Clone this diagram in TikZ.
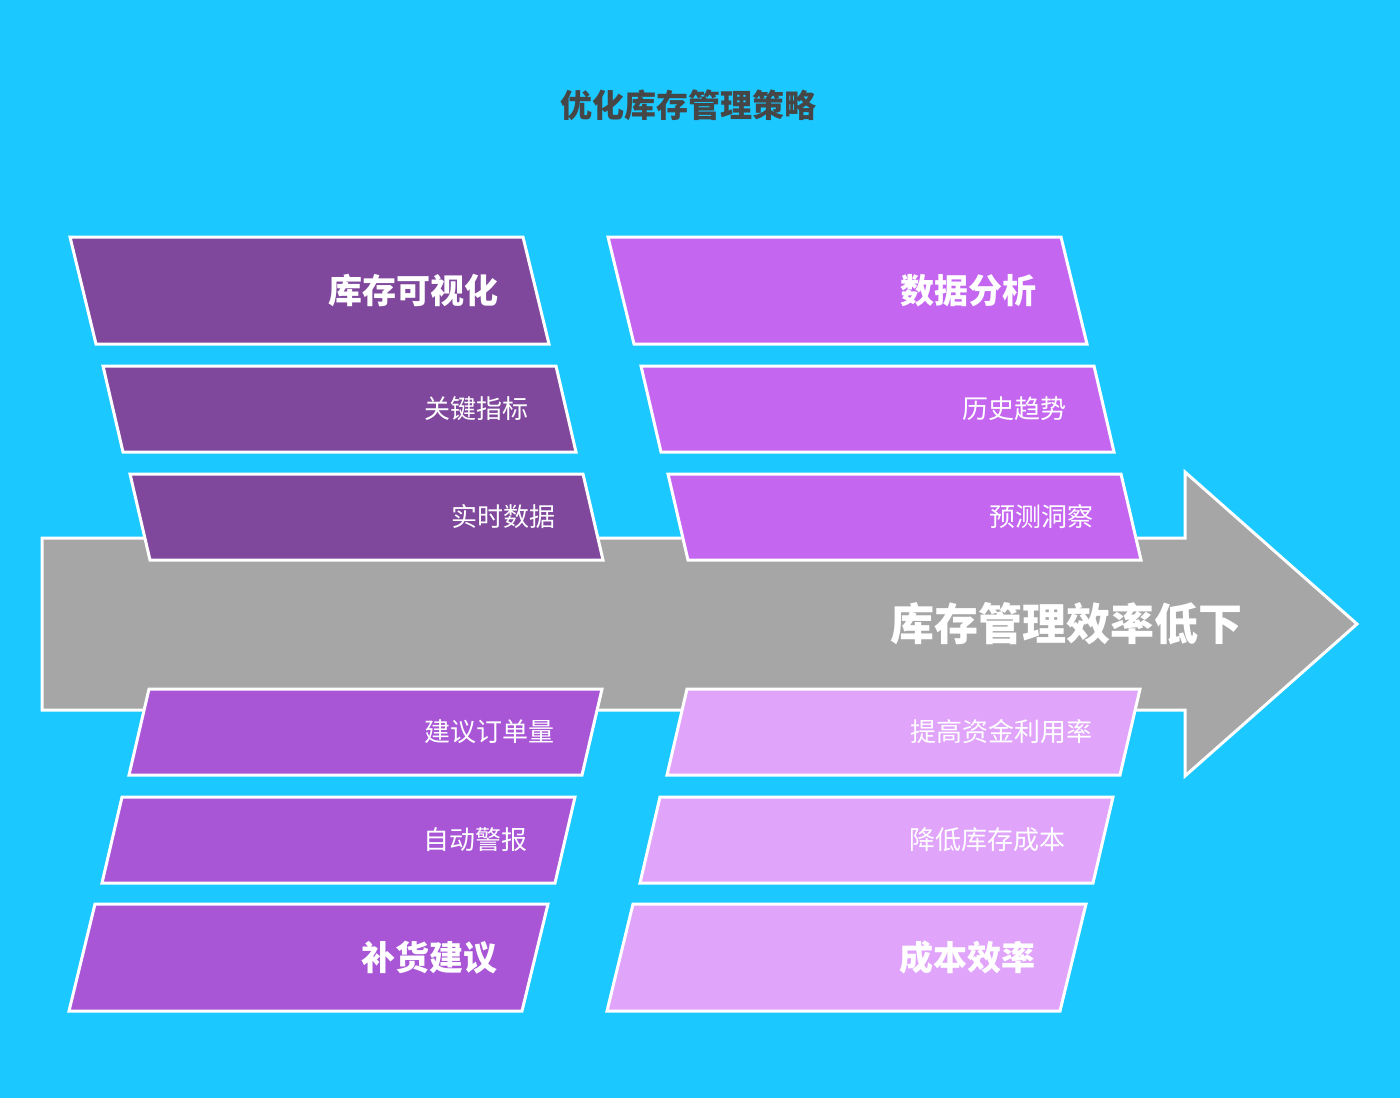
\documentclass[tikz,border=0pt]{standalone}
\usepackage{fontspec}
\setmainfont{Noto Sans CJK SC}
\usetikzlibrary{positioning}
\definecolor{bgblue}{RGB}{27,200,255}
\definecolor{arrowgray}{RGB}{166,166,166}
\definecolor{darkviolet}{RGB}{128,72,156}
\definecolor{brightviolet}{RGB}{197,102,240}
\definecolor{midviolet}{RGB}{168,85,214}
\definecolor{lightviolet}{RGB}{224,164,250}
\definecolor{titlegray}{RGB}{70,70,70}
\tikzset{
  band/.style={draw=white, line width=1.5pt},
  bigtext/.style={text=white, font=\bfseries\fontsize{17}{20}\selectfont, anchor=east, inner sep=0pt},
  subtext/.style={text=white, font=\fontsize{13}{16}\selectfont, anchor=east, inner sep=0pt}
}
% #1 name, #2 top-left x, #3 top y, #4 bottom y, #5 bottom shift, #6 fill, #7 text style, #8 text
\newcommand{\band}[8]{%
  \draw[band, fill=#6] (#2,#3) -- ++(453,0) -- (#2+453+#5,#4) -- (#2+#5,#4) -- cycle;
  \node[#7] (#1) at ({#2+453+#5/2-37},{(#3+#4)/2}) {#8};
}
\begin{document}
\begin{tikzpicture}[x=0.5pt, y=-0.5pt]
  \fill[bgblue] (0,0) rectangle (1400,1098);
  \useasboundingbox (0,0) rectangle (1400,1098);

  % title
  \node[text=titlegray, font=\bfseries\fontsize{16}{19}\selectfont] (title) at (688,105) {优化库存管理策略};

  % spine arrow
  \draw[band, fill=arrowgray] (42,538) -- (1185,538) -- (1185,472) -- (1357,624)
       -- (1185,776) -- (1185,710) -- (42,710) -- cycle;
  \node[text=white, font=\bfseries\fontsize{22}{26}\selectfont] (problem) at (1066,624) {库存管理效率低下};

  % upper left
  \band{vis}{70}{237}{344}{26}{darkviolet}{bigtext}{库存可视化}
  \band{kpi}{103}{366}{452}{20}{darkviolet}{subtext}{关键指标}
  \band{realtime}{130}{474}{560}{20}{darkviolet}{subtext}{实时数据}

  % upper right
  \band{analysis}{608}{237}{344}{26}{brightviolet}{bigtext}{数据分析}
  \band{trend}{641}{366}{452}{20}{brightviolet}{subtext}{历史趋势}
  \band{forecast}{668}{474}{560}{20}{brightviolet}{subtext}{预测洞察}

  % lower left
  \band{order}{149}{689}{775}{-20}{midviolet}{subtext}{建议订单量}
  \band{alert}{122}{797}{883}{-20}{midviolet}{subtext}{自动警报}
  \band{restock}{95}{904}{1011}{-26}{midviolet}{bigtext}{补货建议}

  % lower right
  \band{capital}{687}{689}{775}{-20}{lightviolet}{subtext}{提高资金利用率}
  \band{cost}{660}{797}{883}{-20}{lightviolet}{subtext}{降低库存成本}
  \band{efficiency}{633}{904}{1011}{-26}{lightviolet}{bigtext}{成本效率}
\end{tikzpicture}
\end{document}
